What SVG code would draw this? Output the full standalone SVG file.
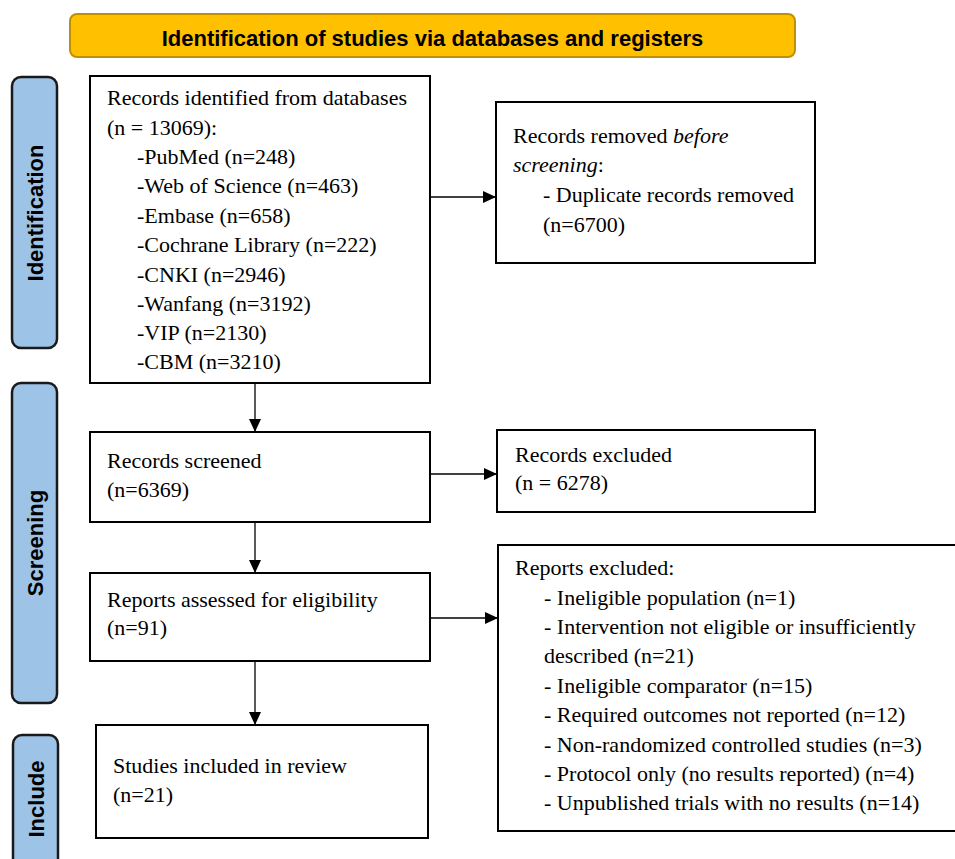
<svg xmlns="http://www.w3.org/2000/svg" width="955" height="859" viewBox="0 0 955 859">
<style>
.box{fill:#fff;stroke:#000;stroke-width:2}
.side{fill:#9DC3E6;stroke:#1a1a1a;stroke-width:2.5}
.t{font-family:"Liberation Serif","Times New Roman",serif;font-size:22px;fill:#000}
.s{font-family:"Liberation Sans",Arial,sans-serif;font-size:22px;font-weight:bold;fill:#000}
.c{stroke:#000;stroke-width:1.3;fill:none;marker-end:url(#ah)}
</style>
<defs>
<marker id="ah" markerUnits="userSpaceOnUse" markerWidth="13" markerHeight="12" refX="13" refY="6" orient="auto">
<path d="M0,0 L13,6 L0,12 z" fill="#000"/>
</marker>
</defs>
<rect width="955" height="859" fill="#fff"/>
<g id="title">
<rect x="70" y="14" width="725" height="43" rx="7" fill="#FFC000" stroke="#BF9000" stroke-width="2"/>
<text class="s" x="432.5" y="46" text-anchor="middle">Identification of studies via databases and registers</text>
</g>
<g id="side-identification">
<rect class="side" x="12" y="77" width="45" height="271" rx="9"/>
<text class="s" transform="translate(43,213) rotate(-90)" text-anchor="middle">Identification</text>
</g>
<g id="side-screening">
<rect class="side" x="12" y="383" width="45" height="320" rx="9"/>
<text class="s" transform="translate(43,543) rotate(-90)" text-anchor="middle">Screening</text>
</g>
<g id="side-include">
<rect class="side" x="13" y="735" width="45" height="140" rx="9"/>
<text class="s" transform="translate(44,799) rotate(-90)" text-anchor="middle">Include</text>
</g>
<g id="records-identified">
<rect class="box" x="90" y="76" width="340" height="307"/>
<text class="t" x="107" y="105">Records identified from databases</text>
<text class="t" x="107" y="135">(n = 13069):</text>
<text class="t" x="137" y="164">-PubMed (n=248)</text>
<text class="t" x="137" y="193">-Web of Science (n=463)</text>
<text class="t" x="137" y="223">-Embase (n=658)</text>
<text class="t" x="137" y="252">-Cochrane Library (n=222)</text>
<text class="t" x="137" y="282">-CNKI (n=2946)</text>
<text class="t" x="137" y="311">-Wanfang (n=3192)</text>
<text class="t" x="137" y="340">-VIP (n=2130)</text>
<text class="t" x="137" y="369">-CBM (n=3210)</text>
</g>
<g id="records-removed">
<rect class="box" x="496" y="102" width="319" height="161"/>
<text class="t" x="513" y="143">Records removed <tspan font-style="italic">before</tspan></text>
<text class="t" x="513" y="172"><tspan font-style="italic">screening</tspan>:</text>
<text class="t" x="543" y="202">- Duplicate records removed</text>
<text class="t" x="543" y="232">(n=6700)</text>
</g>
<g id="records-screened">
<rect class="box" x="90" y="432" width="340" height="90"/>
<text class="t" x="107" y="468">Records screened</text>
<text class="t" x="107" y="497">(n=6369)</text>
</g>
<g id="records-excluded">
<rect class="box" x="497" y="430" width="318" height="82"/>
<text class="t" x="515" y="462">Records excluded</text>
<text class="t" x="515" y="490">(n = 6278)</text>
</g>
<g id="reports-assessed">
<rect class="box" x="90" y="573" width="340" height="88"/>
<text class="t" x="107" y="607">Reports assessed for eligibility</text>
<text class="t" x="107" y="635">(n=91)</text>
</g>
<g id="reports-excluded">
<rect class="box" x="498" y="545" width="462" height="286"/>
<text class="t" x="515" y="575">Reports excluded:</text>
<text class="t" x="544" y="605">- Ineligible population (n=1)</text>
<text class="t" x="544" y="634">- Intervention not eligible or insufficiently</text>
<text class="t" x="544" y="663">described (n=21)</text>
<text class="t" x="544" y="693">- Ineligible comparator (n=15)</text>
<text class="t" x="544" y="722">- Required outcomes not reported (n=12)</text>
<text class="t" x="544" y="752">- Non-randomized controlled studies (n=3)</text>
<text class="t" x="544" y="781">- Protocol only (no results reported) (n=4)</text>
<text class="t" x="544" y="810">- Unpublished trials with no results (n=14)</text>
</g>
<g id="studies-included">
<rect class="box" x="96" y="725" width="332" height="113"/>
<text class="t" x="113" y="773">Studies included in review</text>
<text class="t" x="113" y="802">(n=21)</text>
</g>
<g id="connectors">
<line class="c" x1="430" y1="197" x2="496" y2="197"/>
<line class="c" x1="255" y1="383" x2="255" y2="432"/>
<line class="c" x1="430" y1="474" x2="497" y2="474"/>
<line class="c" x1="255" y1="522" x2="255" y2="573"/>
<line class="c" x1="430" y1="618" x2="498" y2="618"/>
<line class="c" x1="255" y1="661" x2="255" y2="725"/>
</g>
</svg>
